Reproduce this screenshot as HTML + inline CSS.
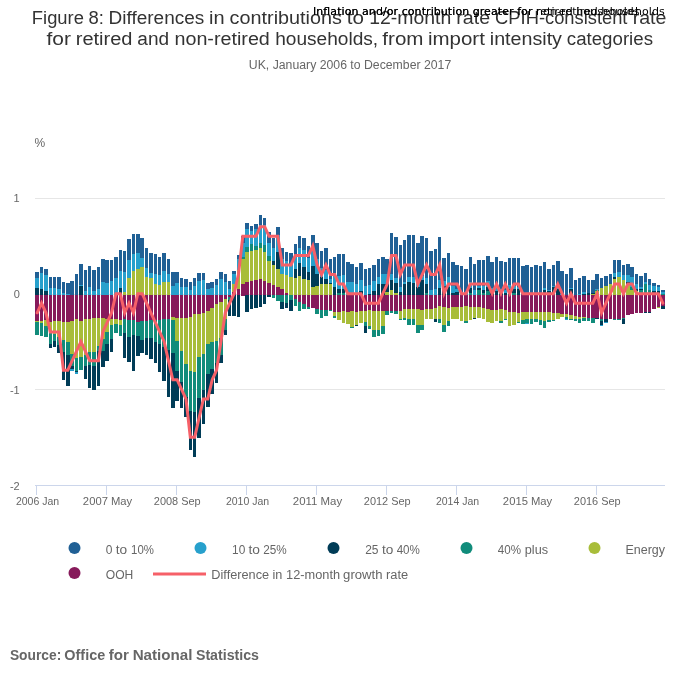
<!DOCTYPE html>
<html lang="en"><head><meta charset="utf-8">
<title>Figure 8: Differences in contributions to 12-month rate CPIH-consistent rate for retired and non-retired households, from import intensity categories</title>
<style>
html,body{margin:0;padding:0;background:#fff}
body{width:700px;height:682px;overflow:hidden;font-family:"Liberation Sans", Arial, sans-serif}
svg{display:block;position:absolute;left:0;top:0}
text{font-family:"Liberation Sans", Arial, sans-serif}
</style></head><body>
<svg width="700" height="682" viewBox="0 0 700 682" role="img" aria-label="Stacked column chart">
<rect width="700" height="682" fill="#ffffff"/>
<g stroke="#e6e6e6" stroke-width="1" shape-rendering="crispEdges">
<path d="M35 198.5H665"/>
<path d="M35 294.5H665"/>
<path d="M35 389.5H665"/>
</g>
<g stroke="#ccd6eb" stroke-width="1" shape-rendering="crispEdges" fill="none">
<path d="M35 485.5H665"/>
<path d="M36.5 485.0V495.0"/>
<path d="M106.5 485.0V495.0"/>
<path d="M176.5 485.0V495.0"/>
<path d="M246.5 485.0V495.0"/>
<path d="M316.5 485.0V495.0"/>
<path d="M386.5 485.0V495.0"/>
<path d="M456.5 485.0V495.0"/>
<path d="M526.5 485.0V495.0"/>
<path d="M596.5 485.0V495.0"/>
</g>
<g shape-rendering="crispEdges">
<path fill="#206095" d="M35 272h4v6h-4zM40 267h3v6h-3zM44 269h4v6h-4zM49 277h3v11h-3zM53 277h3v11h-3zM57 277h4v12h-4zM62 282h3v11h-3zM66 283h4v11h-4zM70 281h4v14h-4zM75 274h3v21h-3zM79 264h4v21h-4zM84 270h3v21h-3zM88 266h3v21h-3zM92 270h4v21h-4zM97 267h3v22h-3zM101 259h4v23h-4zM105 260h4v23h-4zM110 260h3v21h-3zM114 257h4v21h-4zM119 250h3v21h-3zM123 251h3v21h-3zM127 239h4v21h-4zM132 234h3v20h-3zM136 234h4v19h-4zM140 238h4v20h-4zM145 248h3v20h-3zM149 253h4v20h-4zM154 254h3v20h-3zM158 257h3v18h-3zM162 253h4v18h-4zM167 259h3v15h-3zM171 272h4v14h-4zM175 272h4v11h-4zM180 278h3v9h-3zM184 279h4v8h-4zM189 282h3v8h-3zM193 278h3v8h-3zM197 273h4v8h-4zM202 273h3v7h-3zM206 283h4v6h-4zM210 282h4v6h-4zM215 279h3v6h-3zM219 272h4v7h-4zM224 274h3v8h-3zM228 281h3v8h-3zM232 271h4v3h-4zM237 255h3v4h-3zM241 236h4v7h-4zM245 223h4v6h-4zM250 226h3v5h-3zM254 224h4v5h-4zM259 215h3v10h-3zM263 218h3v7h-3zM267 232h4v11h-4zM272 238h3v10h-3zM276 227h4v8h-4zM280 248h4v11h-4zM285 252h3v9h-3zM289 253h4v11h-4zM294 244h3v11h-3zM298 236h3v12h-3zM302 238h4v12h-4zM307 246h3v12h-3zM311 235h4v15h-4zM315 243h4v16h-4zM320 251h3v17h-3zM324 248h4v22h-4zM329 259h3v20h-3zM333 257h3v16h-3zM337 254h4v22h-4zM342 254h3v21h-3zM346 262h4v20h-4zM350 264h4v18h-4zM355 267h3v17h-3zM359 263h4v17h-4zM364 269h3v17h-3zM368 268h3v17h-3zM372 265h4v16h-4zM377 259h3v18h-3zM381 257h4v17h-4zM385 259h4v15h-4zM390 233h3v41h-3zM394 237h4v41h-4zM399 245h3v42h-3zM403 240h3v42h-3zM407 235h4v42h-4zM412 235h3v42h-3zM416 243h4v40h-4zM420 236h4v40h-4zM425 238h3v40h-3zM429 251h4v39h-4zM434 249h3v40h-3zM438 237h3v43h-3zM442 258h4v23h-4zM447 253h3v24h-3zM451 262h4v24h-4zM455 265h4v24h-4zM460 266h3v26h-3zM464 269h4v23h-4zM469 257h3v25h-3zM473 264h3v26h-3zM477 260h4v26h-4zM482 260h3v26h-3zM486 256h4v25h-4zM490 262h4v26h-4zM495 257h3v31h-3zM499 261h4v28h-4zM504 262h3v28h-3zM508 258h3v27h-3zM512 258h4v28h-4zM517 258h3v29h-3zM521 266h4v29h-4zM525 265h4v30h-4zM530 267h3v28h-3zM534 265h4v30h-4zM539 266h3v29h-3zM543 262h3v26h-3zM547 269h4v21h-4zM552 265h3v21h-3zM556 261h4v25h-4zM560 271h4v23h-4zM565 274h3v21h-3zM569 268h4v20h-4zM574 280h3v15h-3zM578 278h3v16h-3zM582 276h4v16h-4zM587 280h3v13h-3zM591 280h4v13h-4zM595 274h4v15h-4zM600 278h3v10h-3zM604 276h4v10h-4zM609 274h3v10h-3zM613 260h3v13h-3zM617 260h4v12h-4zM622 265h3v10h-3zM626 264h4v11h-4zM630 267h4v10h-4zM635 274h3v10h-3zM639 276h4v11h-4zM644 273h3v9h-3zM648 279h3v6h-3zM652 283h4v3h-4zM657 285h3v2h-3zM661 290h4v2h-4z"/>
<path fill="#27a0cc" d="M35 278h4v10h-4zM40 273h3v16h-3zM44 275h4v16h-4zM49 288h3v7h-3zM53 288h3v7h-3zM57 289h4v6h-4zM62 293h3v2h-3zM66 294h4v1h-4zM70 369h4v2h-4zM75 372h3v2h-3zM79 285h4v1h-4zM84 291h3v4h-3zM88 287h3v8h-3zM92 291h4v4h-4zM97 289h3v6h-3zM101 282h4v13h-4zM105 283h4v12h-4zM110 281h3v14h-3zM114 278h4v17h-4zM119 271h3v17h-3zM123 272h3v20h-3zM127 260h4v18h-4zM132 254h3v17h-3zM136 253h4v16h-4zM140 258h4v9h-4zM145 268h3v9h-3zM149 273h4v5h-4zM154 274h3v10h-3zM158 275h3v10h-3zM162 271h4v11h-4zM167 274h3v8h-3zM171 286h4v9h-4zM175 283h4v12h-4zM180 287h3v8h-3zM184 287h4v8h-4zM189 290h3v5h-3zM193 286h3v9h-3zM197 281h4v14h-4zM202 280h3v15h-3zM206 289h4v6h-4zM210 288h4v7h-4zM215 285h3v10h-3zM219 279h4v16h-4zM224 282h3v13h-3zM228 289h3v6h-3zM232 274h4v10h-4zM237 259h3v11h-3zM241 243h4v14h-4zM245 229h4v18h-4zM250 231h3v13h-3zM254 229h4v17h-4zM259 225h3v18h-3zM263 225h3v20h-3zM267 243h4v13h-4zM272 248h3v13h-3zM276 235h4v17h-4zM280 259h4v15h-4zM285 261h3v14h-3zM289 264h4v13h-4zM294 255h3v14h-3zM298 248h3v15h-3zM302 250h4v17h-4zM307 258h3v14h-3zM311 250h4v16h-4zM315 259h4v15h-4zM320 268h3v9h-3zM324 270h4v9h-4zM329 279h3v4h-3zM333 273h3v14h-3zM337 276h4v13h-4zM342 275h3v14h-3zM346 282h4v13h-4zM350 282h4v13h-4zM355 284h3v11h-3zM359 280h4v11h-4zM364 286h3v9h-3zM368 285h3v9h-3zM372 281h4v10h-4zM377 277h3v7h-3zM381 274h4v10h-4zM385 274h4v10h-4zM390 274h3v6h-3zM394 278h4v5h-4zM399 287h3v5h-3zM403 282h3v2h-3zM407 277h4v5h-4zM412 277h3v6h-3zM416 283h4v4h-4zM420 276h4v4h-4zM425 278h3v6h-3zM429 290h4v5h-4zM434 289h3v6h-3zM438 280h3v8h-3zM442 281h4v5h-4zM447 277h3v10h-3zM451 286h4v7h-4zM455 289h4v3h-4zM460 292h3v3h-3zM464 292h4v3h-4zM469 282h3v6h-3zM473 290h3v5h-3zM477 286h4v2h-4zM482 286h3v4h-3zM486 281h4v6h-4zM490 288h4v3h-4zM495 288h3v3h-3zM499 289h4v3h-4zM504 290h3v3h-3zM508 285h3v4h-3zM512 286h4v3h-4zM517 287h3v2h-3zM525 323h4v1h-4zM543 288h3v2h-3zM547 290h4v1h-4zM552 286h3v1h-3zM556 286h4v3h-4zM560 294h4v1h-4zM565 319h3v1h-3zM569 288h4v1h-4zM578 294h3v1h-3zM582 292h4v2h-4zM595 289h4v1h-4zM600 325h3v1h-3zM604 322h4v1h-4zM613 273h3v4h-3zM617 272h4v5h-4zM622 275h3v5h-3zM626 275h4v7h-4zM630 277h4v10h-4zM635 284h3v5h-3zM639 287h4v2h-4zM644 282h3v2h-3zM648 285h3v5h-3zM652 286h4v5h-4zM657 287h3v4h-3zM661 292h4v2h-4z"/>
<path fill="#003c57" d="M35 288h4v7h-4zM40 289h3v6h-3zM44 291h4v4h-4zM49 344h3v4h-3zM53 341h3v6h-3zM57 345h4v8h-4zM62 352h3v28h-3zM66 355h4v31h-4zM70 366h4v3h-4zM75 371h3v1h-3zM79 286h4v9h-4zM84 366h3v13h-3zM88 365h3v23h-3zM92 366h4v24h-4zM97 351h3v35h-3zM101 351h4v16h-4zM105 344h4v17h-4zM110 339h3v13h-3zM119 288h3v7h-3zM123 333h3v25h-3zM127 337h4v25h-4zM132 335h3v36h-3zM136 336h4v20h-4zM140 340h4v13h-4zM145 338h3v17h-3zM149 338h4v21h-4zM154 342h3v21h-3zM158 344h3v28h-3zM162 347h4v34h-4zM167 350h3v47h-3zM171 353h4v55h-4zM175 371h4v30h-4zM180 382h3v26h-3zM184 397h4v20h-4zM189 411h3v39h-3zM193 412h3v45h-3zM197 398h4v40h-4zM202 390h3v34h-3zM206 374h4v33h-4zM210 369h4v25h-4zM215 363h3v20h-3zM219 355h4v8h-4zM224 330h3v5h-3zM228 300h3v16h-3zM232 295h4v21h-4zM237 295h3v22h-3zM245 295h4v17h-4zM250 295h3v14h-3zM254 295h4v13h-4zM259 295h3v12h-3zM263 295h3v9h-3zM267 295h4v2h-4zM272 261h3v4h-3zM276 252h4v17h-4zM280 302h4v7h-4zM285 303h3v5h-3zM289 300h4v11h-4zM294 269h3v9h-3zM298 263h3v13h-3zM302 267h4v12h-4zM307 272h3v8h-3zM311 266h4v21h-4zM315 274h4v12h-4zM320 277h3v7h-3zM324 279h4v5h-4zM329 283h3v1h-3zM333 287h3v8h-3zM337 289h4v4h-4zM342 289h3v4h-3zM355 325h3v1h-3zM359 291h4v4h-4zM364 326h3v7h-3zM368 294h3v1h-3zM372 291h4v4h-4zM377 284h3v11h-3zM381 284h4v11h-4zM385 284h4v8h-4zM390 280h3v10h-3zM394 283h4v10h-4zM399 292h3v3h-3zM403 284h3v11h-3zM407 282h4v13h-4zM412 283h3v12h-3zM416 287h4v8h-4zM420 280h4v15h-4zM425 284h3v9h-3zM434 319h3v3h-3zM438 288h3v7h-3zM442 286h4v9h-4zM447 287h3v8h-3zM451 293h4v2h-4zM455 292h4v3h-4zM469 288h3v5h-3zM473 318h3v1h-3zM477 288h4v2h-4zM482 290h3v3h-3zM486 287h4v4h-4zM490 291h4v4h-4zM495 291h3v4h-3zM499 292h4v3h-4zM504 293h3v2h-3zM508 289h3v6h-3zM512 289h4v4h-4zM517 289h3v6h-3zM543 290h3v5h-3zM547 291h4v4h-4zM552 287h3v8h-3zM556 289h4v6h-4zM569 289h4v6h-4zM582 294h4v1h-4zM587 293h3v2h-3zM591 293h4v1h-4zM595 318h4v1h-4zM600 321h3v4h-3zM604 319h4v3h-4zM613 277h3v2h-3zM622 319h3v5h-3zM626 282h4v3h-4zM635 289h3v2h-3zM639 289h4v1h-4zM644 312h3v1h-3zM648 312h3v1h-3zM652 291h4v4h-4zM657 291h3v4h-3zM661 306h4v3h-4z"/>
<path fill="#118c7b" d="M35 322h4v13h-4zM40 323h3v13h-3zM44 326h4v11h-4zM49 333h3v11h-3zM53 334h3v7h-3zM57 337h4v8h-4zM62 340h3v12h-3zM66 342h4v13h-4zM70 354h4v12h-4zM75 358h3v13h-3zM79 357h4v13h-4zM84 355h3v11h-3zM88 352h3v13h-3zM92 352h4v14h-4zM97 346h3v5h-3zM101 339h4v12h-4zM105 332h4v12h-4zM110 325h3v14h-3zM114 324h4v9h-4zM119 325h3v11h-3zM123 319h3v14h-3zM127 320h4v17h-4zM132 320h3v15h-3zM136 322h4v14h-4zM140 321h4v19h-4zM145 321h3v17h-3zM149 320h4v18h-4zM154 320h3v22h-3zM158 320h3v24h-3zM162 319h4v28h-4zM167 319h3v31h-3zM171 320h4v33h-4zM175 341h4v30h-4zM180 351h3v31h-3zM184 364h4v33h-4zM189 371h3v40h-3zM193 372h3v40h-3zM197 357h4v41h-4zM202 354h3v36h-3zM206 344h4v30h-4zM210 342h4v27h-4zM215 341h3v22h-3zM219 338h4v17h-4zM224 319h3v11h-3zM228 297h3v3h-3zM241 257h4v2h-4zM245 247h4v5h-4zM250 244h3v7h-3zM254 246h4v4h-4zM259 243h3v5h-3zM263 245h3v7h-3zM267 256h4v5h-4zM272 295h3v3h-3zM276 295h4v6h-4zM280 295h4v7h-4zM285 295h3v8h-3zM289 295h4v5h-4zM294 299h3v7h-3zM298 302h3v9h-3zM302 304h4v5h-4zM307 307h3v2h-3zM315 309h4v5h-4zM320 310h3v8h-3zM324 310h4v6h-4zM329 310h3v1h-3zM333 316h3v2h-3zM337 293h4v2h-4zM342 293h3v2h-3zM350 327h4v1h-4zM364 322h3v4h-3zM368 326h3v3h-3zM372 330h4v7h-4zM377 330h3v6h-3zM381 326h4v8h-4zM385 311h4v4h-4zM390 311h3v2h-3zM394 311h4v3h-4zM399 319h3v1h-3zM403 318h3v2h-3zM407 319h4v6h-4zM412 319h3v6h-3zM416 325h4v8h-4zM420 325h4v5h-4zM425 293h3v2h-3zM438 319h3v4h-3zM442 325h4v7h-4zM447 321h3v5h-3zM464 321h4v2h-4zM469 293h3v2h-3zM477 290h4v5h-4zM482 293h3v2h-3zM486 291h4v4h-4zM499 321h4v2h-4zM504 319h3v1h-3zM512 293h4v2h-4zM517 322h3v1h-3zM521 320h4v4h-4zM525 319h4v4h-4zM530 319h3v5h-3zM534 319h4v3h-4zM539 320h3v5h-3zM543 321h3v7h-3zM547 320h4v2h-4zM552 320h3v1h-3zM565 317h3v2h-3zM569 319h4v1h-4zM574 319h3v2h-3zM578 319h3v4h-3zM582 318h4v3h-4zM587 318h3v3h-3zM591 318h4v5h-4zM595 290h4v1h-4zM600 319h3v2h-3zM613 319h3v1h-3zM617 319h4v1h-4zM622 318h3v1h-3zM630 287h4v3h-4zM639 290h4v5h-4zM644 284h3v11h-3zM648 290h3v5h-3zM661 294h4v1h-4z"/>
<path fill="#a8bd3a" d="M35 321h4v1h-4zM40 321h3v2h-3zM44 320h4v6h-4zM49 322h3v11h-3zM53 321h3v13h-3zM57 321h4v16h-4zM62 322h3v18h-3zM66 322h4v20h-4zM70 321h4v33h-4zM75 319h3v39h-3zM79 321h4v36h-4zM84 319h3v36h-3zM88 319h3v33h-3zM92 318h4v34h-4zM97 318h3v28h-3zM101 318h4v21h-4zM105 319h4v13h-4zM110 319h3v6h-3zM114 319h4v5h-4zM119 320h3v5h-3zM123 292h3v3h-3zM127 278h4v17h-4zM132 271h3v24h-3zM136 269h4v26h-4zM140 267h4v28h-4zM145 277h3v18h-3zM149 278h4v17h-4zM154 284h3v11h-3zM158 285h3v10h-3zM162 282h4v13h-4zM167 282h3v13h-3zM171 317h4v3h-4zM175 318h4v23h-4zM180 318h3v33h-3zM184 318h4v46h-4zM189 317h3v54h-3zM193 314h3v58h-3zM197 314h4v43h-4zM202 313h3v41h-3zM206 311h4v33h-4zM210 308h4v34h-4zM215 304h3v37h-3zM219 302h4v36h-4zM224 299h3v20h-3zM232 284h4v8h-4zM237 270h3v19h-3zM241 259h4v25h-4zM245 252h4v30h-4zM250 251h3v30h-3zM254 250h4v30h-4zM259 248h3v31h-3zM263 252h3v29h-3zM267 261h4v22h-4zM272 265h3v20h-3zM276 269h4v18h-4zM280 274h4v15h-4zM285 275h3v18h-3zM289 277h4v18h-4zM294 278h3v17h-3zM298 276h3v19h-3zM302 279h4v16h-4zM307 280h3v15h-3zM311 287h4v8h-4zM315 286h4v9h-4zM320 284h3v11h-3zM324 284h4v11h-4zM329 284h3v11h-3zM333 312h3v4h-3zM337 312h4v8h-4zM342 311h3v12h-3zM346 312h4v12h-4zM350 311h4v16h-4zM355 312h3v13h-3zM359 311h4v12h-4zM364 311h3v11h-3zM368 310h3v16h-3zM372 311h4v19h-4zM377 311h3v19h-3zM381 311h4v15h-4zM385 292h4v3h-4zM390 290h3v5h-3zM394 293h4v2h-4zM399 311h3v8h-3zM403 309h3v9h-3zM407 309h4v10h-4zM412 309h3v10h-3zM416 309h4v16h-4zM420 310h4v15h-4zM425 309h3v10h-3zM429 309h4v10h-4zM434 308h3v11h-3zM438 306h3v13h-3zM442 307h4v18h-4zM447 308h3v13h-3zM451 307h4v12h-4zM455 307h4v12h-4zM460 307h3v14h-3zM464 306h4v15h-4zM469 307h3v13h-3zM473 307h3v11h-3zM477 307h4v11h-4zM482 308h3v11h-3zM486 309h4v13h-4zM490 310h4v13h-4zM495 310h3v11h-3zM499 309h4v12h-4zM504 310h3v9h-3zM508 312h3v14h-3zM512 312h4v13h-4zM517 313h3v9h-3zM521 312h4v8h-4zM525 312h4v7h-4zM530 312h3v7h-3zM534 312h4v7h-4zM539 312h3v8h-3zM543 312h3v9h-3zM547 312h4v8h-4zM552 313h3v7h-3zM556 313h4v6h-4zM560 314h4v3h-4zM565 314h3v3h-3zM569 315h4v4h-4zM574 316h3v3h-3zM578 317h3v2h-3zM582 317h4v1h-4zM591 294h4v1h-4zM595 291h4v4h-4zM600 288h3v7h-3zM604 286h4v9h-4zM609 284h3v11h-3zM613 279h3v16h-3zM617 277h4v18h-4zM622 280h3v15h-3zM626 285h4v10h-4zM630 290h4v5h-4zM635 291h3v4h-3zM657 307h3v1h-3z"/>
<path fill="#871a5b" d="M35 295h4v26h-4zM40 295h3v26h-3zM44 295h4v25h-4zM49 295h3v27h-3zM53 295h3v26h-3zM57 295h4v26h-4zM62 295h3v27h-3zM66 295h4v27h-4zM70 295h4v26h-4zM75 295h3v24h-3zM79 295h4v26h-4zM84 295h3v24h-3zM88 295h3v24h-3zM92 295h4v23h-4zM97 295h3v23h-3zM101 295h4v23h-4zM105 295h4v24h-4zM110 295h3v24h-3zM114 295h4v24h-4zM119 295h3v25h-3zM123 295h3v24h-3zM127 295h4v25h-4zM132 295h3v25h-3zM136 295h4v27h-4zM140 295h4v26h-4zM145 295h3v26h-3zM149 295h4v25h-4zM154 295h3v25h-3zM158 295h3v25h-3zM162 295h4v24h-4zM167 295h3v24h-3zM171 295h4v22h-4zM175 295h4v23h-4zM180 295h3v23h-3zM184 295h4v23h-4zM189 295h3v22h-3zM193 295h3v19h-3zM197 295h4v19h-4zM202 295h3v18h-3zM206 295h4v16h-4zM210 295h4v13h-4zM215 295h3v9h-3zM219 295h4v7h-4zM224 295h3v4h-3zM228 295h3v2h-3zM232 292h4v3h-4zM237 289h3v6h-3zM241 284h4v11h-4zM241 295h4v1h-4zM245 282h4v13h-4zM250 281h3v14h-3zM254 280h4v15h-4zM259 279h3v16h-3zM263 281h3v14h-3zM267 283h4v12h-4zM272 285h3v10h-3zM276 287h4v8h-4zM280 289h4v6h-4zM285 293h3v2h-3zM294 295h3v4h-3zM298 295h3v7h-3zM302 295h4v9h-4zM307 295h3v12h-3zM311 295h4v13h-4zM315 295h4v14h-4zM320 295h3v15h-3zM324 295h4v15h-4zM329 295h3v15h-3zM333 295h3v17h-3zM337 295h4v17h-4zM342 295h3v16h-3zM346 295h4v17h-4zM350 295h4v16h-4zM355 295h3v17h-3zM359 295h4v16h-4zM364 295h3v16h-3zM368 295h3v15h-3zM372 295h4v16h-4zM377 295h3v16h-3zM381 295h4v16h-4zM385 295h4v16h-4zM390 295h3v16h-3zM394 295h4v16h-4zM399 295h3v16h-3zM403 295h3v14h-3zM407 295h4v14h-4zM412 295h3v14h-3zM416 295h4v14h-4zM420 295h4v15h-4zM425 295h3v14h-3zM429 295h4v14h-4zM434 295h3v13h-3zM438 295h3v11h-3zM442 295h4v12h-4zM447 295h3v13h-3zM451 295h4v12h-4zM455 295h4v12h-4zM460 295h3v12h-3zM464 295h4v11h-4zM469 295h3v12h-3zM473 295h3v12h-3zM477 295h4v12h-4zM482 295h3v13h-3zM486 295h4v14h-4zM490 295h4v15h-4zM495 295h3v15h-3zM499 295h4v14h-4zM504 295h3v15h-3zM508 295h3v17h-3zM512 295h4v17h-4zM517 295h3v18h-3zM521 295h4v17h-4zM525 295h4v17h-4zM530 295h3v17h-3zM534 295h4v17h-4zM539 295h3v17h-3zM543 295h3v17h-3zM547 295h4v17h-4zM552 295h3v18h-3zM556 295h4v18h-4zM560 295h4v19h-4zM565 295h3v19h-3zM569 295h4v20h-4zM574 295h3v21h-3zM578 295h3v22h-3zM582 295h4v22h-4zM587 295h3v23h-3zM591 295h4v23h-4zM595 295h4v23h-4zM600 295h3v24h-3zM604 295h4v24h-4zM609 295h3v24h-3zM613 295h3v24h-3zM617 295h4v24h-4zM622 295h3v23h-3zM626 295h4v20h-4zM630 295h4v19h-4zM635 295h3v18h-3zM639 295h4v18h-4zM644 295h3v17h-3zM648 295h3v17h-3zM652 295h4v14h-4zM657 295h3v12h-3zM661 295h4v11h-4z"/>
</g>
<path fill="none" stroke="#f66068" stroke-width="3" stroke-linejoin="miter" stroke-miterlimit="10" stroke-linecap="round" d="M37.19 312.80 L41.56 303.23 L45.94 312.80 L50.31 331.93 L54.69 331.93 L59.06 331.93 L63.44 370.20 L67.81 370.20 L72.19 360.63 L76.56 351.07 L80.94 341.50 L85.31 351.07 L89.69 360.63 L94.06 360.63 L98.44 360.63 L102.81 331.93 L107.19 322.37 L111.56 312.80 L115.94 293.67 L120.31 293.67 L124.69 312.80 L129.06 303.23 L133.44 312.80 L137.81 293.67 L142.19 293.67 L146.56 303.23 L150.94 312.80 L155.31 322.37 L159.69 331.93 L164.06 341.50 L168.44 360.63 L172.81 379.77 L177.19 379.77 L181.56 389.33 L185.94 398.90 L190.31 437.17 L194.69 437.17 L199.06 418.03 L203.44 398.90 L207.81 398.90 L212.19 379.77 L216.56 370.20 L220.94 341.50 L225.31 312.80 L229.69 303.23 L234.06 293.67 L238.44 274.53 L242.81 236.27 L247.19 236.27 L251.56 236.27 L255.94 236.27 L260.31 226.70 L264.69 226.70 L269.06 236.27 L273.44 236.27 L277.81 236.27 L282.19 264.97 L286.56 264.97 L290.94 264.97 L295.31 255.40 L299.69 255.40 L304.06 255.40 L308.44 255.40 L312.81 245.83 L317.19 264.97 L321.56 274.53 L325.94 264.97 L330.31 274.53 L334.69 274.53 L339.06 284.10 L343.44 284.10 L347.81 293.67 L352.19 293.67 L356.56 293.67 L360.94 293.67 L365.31 303.23 L369.69 303.23 L374.06 303.23 L378.44 303.23 L382.81 293.67 L387.19 284.10 L391.56 255.40 L395.94 255.40 L400.31 274.53 L404.69 264.97 L409.06 264.97 L413.44 264.97 L417.81 284.10 L422.19 274.53 L426.56 264.97 L430.94 274.53 L435.31 274.53 L439.69 264.97 L444.06 293.67 L448.44 284.10 L452.81 284.10 L457.19 284.10 L461.56 293.67 L465.94 293.67 L470.31 284.10 L474.69 284.10 L479.06 284.10 L483.44 284.10 L487.81 284.10 L492.19 293.67 L496.56 284.10 L500.94 293.67 L505.31 284.10 L509.69 293.67 L514.06 284.10 L518.44 284.10 L522.81 293.67 L527.19 293.67 L531.56 293.67 L535.94 293.67 L540.31 293.67 L544.69 293.67 L549.06 293.67 L553.44 293.67 L557.81 284.10 L562.19 293.67 L566.56 303.23 L570.94 293.67 L575.31 303.23 L579.69 303.23 L584.06 303.23 L588.44 303.23 L592.81 303.23 L597.19 293.67 L601.56 312.80 L605.94 303.23 L610.31 293.67 L614.69 284.10 L619.06 284.10 L623.44 293.67 L627.81 284.10 L632.19 284.10 L636.56 293.67 L640.94 293.67 L645.31 293.67 L649.69 293.67 L654.06 293.67 L658.44 293.67 L662.81 303.23"/>
<text y="23.6" font-size="18" fill="#333333"><tspan x="31.85" textLength="52.01" lengthAdjust="spacingAndGlyphs">Figure</tspan> <tspan x="88.61" textLength="15.36" lengthAdjust="spacingAndGlyphs">8:</tspan> <tspan x="108.57" textLength="95.69" lengthAdjust="spacingAndGlyphs">Differences</tspan> <tspan x="208.96" textLength="15.56" lengthAdjust="spacingAndGlyphs">in</tspan> <tspan x="229.61" textLength="112.36" lengthAdjust="spacingAndGlyphs">contributions</tspan> <tspan x="346.78" textLength="17.22" lengthAdjust="spacingAndGlyphs">to</tspan> <tspan x="369.22" textLength="82.03" lengthAdjust="spacingAndGlyphs">12-month</tspan> <tspan x="456.33" textLength="33.82" lengthAdjust="spacingAndGlyphs">rate</tspan> <tspan x="495.13" textLength="132.31" lengthAdjust="spacingAndGlyphs">CPIH-consistent</tspan> <tspan x="632.66" textLength="33.82" lengthAdjust="spacingAndGlyphs">rate</tspan></text>
<text y="44.6" font-size="18" fill="#333333"><tspan x="46.53" textLength="24.44" lengthAdjust="spacingAndGlyphs">for</tspan> <tspan x="75.72" textLength="56.75" lengthAdjust="spacingAndGlyphs">retired</tspan> <tspan x="137.39" textLength="31.76" lengthAdjust="spacingAndGlyphs">and</tspan> <tspan x="174.45" textLength="95.4" lengthAdjust="spacingAndGlyphs">non-retired</tspan> <tspan x="275.19" textLength="102.91" lengthAdjust="spacingAndGlyphs">households,</tspan> <tspan x="382.34" textLength="41.13" lengthAdjust="spacingAndGlyphs">from</tspan> <tspan x="427.98" textLength="56.91" lengthAdjust="spacingAndGlyphs">import</tspan> <tspan x="489.78" textLength="72.2" lengthAdjust="spacingAndGlyphs">intensity</tspan> <tspan x="566.81" textLength="86.2" lengthAdjust="spacingAndGlyphs">categories</tspan></text>
<text x="248.83" y="68.9" font-size="12" fill="#666666" textLength="202.4" lengthAdjust="spacingAndGlyphs">UK, January 2006 to December 2017</text>
<text y="14.7" font-size="11" fill="#000000" style='font-family:"DejaVu Sans", "Liberation Sans", sans-serif'><tspan x="312.99" textLength="45.52" lengthAdjust="spacing">Inflation</tspan> <tspan x="362.04" textLength="36.1" lengthAdjust="spacing">and/or</tspan> <tspan x="401.68" textLength="67.5" lengthAdjust="spacing">contribution</tspan> <tspan x="472.71" textLength="40.88" lengthAdjust="spacing">greater</tspan> <tspan x="517.13" textLength="15.31" lengthAdjust="spacing">for</tspan> <tspan x="535.98" textLength="61.85" lengthAdjust="spacing">non-retired</tspan> <tspan x="601.37" textLength="63.42" lengthAdjust="spacing">households</tspan></text>
<text y="14.7" font-size="11" fill="#000000" style='font-family:"DejaVu Sans", "Liberation Sans", sans-serif'><tspan x="312.99" textLength="45.52" lengthAdjust="spacing">Inflation</tspan> <tspan x="362.04" textLength="36.1" lengthAdjust="spacing">and/or</tspan> <tspan x="401.68" textLength="67.5" lengthAdjust="spacing">contribution</tspan> <tspan x="472.71" textLength="40.88" lengthAdjust="spacing">greater</tspan> <tspan x="517.13" textLength="15.31" lengthAdjust="spacing">for</tspan> <tspan x="535.82" textLength="36.87" lengthAdjust="spacing">retired</tspan> <tspan x="576.22" textLength="63.38" lengthAdjust="spacing">households</tspan></text>
<text y="147" font-size="12" fill="#666666"><tspan x="34.48" textLength="10.67" lengthAdjust="spacingAndGlyphs">%</tspan></text>
<text x="19.7" y="202.1" font-size="11" fill="#666666" text-anchor="end">1</text>
<text x="19.8" y="298.1" font-size="11" fill="#666666" text-anchor="end">0</text>
<text x="19.7" y="394.1" font-size="11" fill="#666666" text-anchor="end">-1</text>
<text x="19.7" y="490.1" font-size="11" fill="#666666" text-anchor="end">-2</text>
<text x="15.92" y="504.7" font-size="11" fill="#666666" textLength="43.21" lengthAdjust="spacingAndGlyphs">2006 Jan</text>
<text x="82.89" y="504.7" font-size="11" fill="#666666" textLength="49.37" lengthAdjust="spacingAndGlyphs">2007 May</text>
<text x="153.8" y="504.7" font-size="11" fill="#666666" textLength="46.85" lengthAdjust="spacingAndGlyphs">2008 Sep</text>
<text x="225.92" y="504.7" font-size="11" fill="#666666" textLength="43.21" lengthAdjust="spacingAndGlyphs">2010 Jan</text>
<text x="292.88" y="504.7" font-size="11" fill="#666666" textLength="49.31" lengthAdjust="spacingAndGlyphs">2011 May</text>
<text x="363.8" y="504.7" font-size="11" fill="#666666" textLength="46.85" lengthAdjust="spacingAndGlyphs">2012 Sep</text>
<text x="435.92" y="504.7" font-size="11" fill="#666666" textLength="43.21" lengthAdjust="spacingAndGlyphs">2014 Jan</text>
<text x="502.89" y="504.7" font-size="11" fill="#666666" textLength="49.37" lengthAdjust="spacingAndGlyphs">2015 May</text>
<text x="573.8" y="504.7" font-size="11" fill="#666666" textLength="46.85" lengthAdjust="spacingAndGlyphs">2016 Sep</text>
<text y="553.5" font-size="12" fill="#666666"><tspan x="105.82" textLength="6.68" lengthAdjust="spacingAndGlyphs">0</tspan> <tspan x="115.79" textLength="11.42" lengthAdjust="spacingAndGlyphs">to</tspan> <tspan x="131.06" textLength="22.83" lengthAdjust="spacingAndGlyphs">10%</tspan></text>
<text y="553.5" font-size="12" fill="#666666"><tspan x="232.06" textLength="13.21" lengthAdjust="spacingAndGlyphs">10</tspan> <tspan x="248.52" textLength="11.48" lengthAdjust="spacingAndGlyphs">to</tspan> <tspan x="263.33" textLength="23.48" lengthAdjust="spacingAndGlyphs">25%</tspan></text>
<text y="553.5" font-size="12" fill="#666666"><tspan x="365.2" textLength="13.35" lengthAdjust="spacingAndGlyphs">25</tspan> <tspan x="382.01" textLength="11.36" lengthAdjust="spacingAndGlyphs">to</tspan> <tspan x="396.66" textLength="23.25" lengthAdjust="spacingAndGlyphs">40%</tspan></text>
<text y="553.5" font-size="12" fill="#666666"><tspan x="497.86" textLength="23.21" lengthAdjust="spacingAndGlyphs">40%</tspan> <tspan x="524.76" textLength="23.29" lengthAdjust="spacingAndGlyphs">plus</tspan></text>
<text y="553.5" font-size="12" fill="#666666"><tspan x="625.46" textLength="39.56" lengthAdjust="spacingAndGlyphs">Energy</tspan></text>
<text y="578.5" font-size="12" fill="#666666"><tspan x="105.8" textLength="27.55" lengthAdjust="spacingAndGlyphs">OOH</tspan></text>
<text y="578.5" font-size="12" fill="#666666"><tspan x="211.34" textLength="57.78" lengthAdjust="spacingAndGlyphs">Difference</tspan> <tspan x="272.45" textLength="9.87" lengthAdjust="spacingAndGlyphs">in</tspan> <tspan x="286.13" textLength="54.02" lengthAdjust="spacingAndGlyphs">12-month</tspan> <tspan x="343.11" textLength="39.45" lengthAdjust="spacingAndGlyphs">growth</tspan> <tspan x="386.08" textLength="22.16" lengthAdjust="spacingAndGlyphs">rate</tspan></text>
<text y="660" font-size="14" fill="#666666" font-weight="bold"><tspan x="9.91" textLength="51.34" lengthAdjust="spacingAndGlyphs">Source:</tspan> <tspan x="64.34" textLength="40.84" lengthAdjust="spacingAndGlyphs">Office</tspan> <tspan x="108.76" textLength="20.15" lengthAdjust="spacingAndGlyphs">for</tspan> <tspan x="132.65" textLength="59.76" lengthAdjust="spacingAndGlyphs">National</tspan> <tspan x="195.94" textLength="63.06" lengthAdjust="spacingAndGlyphs">Statistics</tspan></text>
<circle cx="74.5" cy="548" r="6" fill="#206095"/>
<circle cx="200.5" cy="548" r="6" fill="#27a0cc"/>
<circle cx="333.5" cy="548" r="6" fill="#003c57"/>
<circle cx="466.5" cy="548" r="6" fill="#118c7b"/>
<circle cx="594.5" cy="548" r="6" fill="#a8bd3a"/>
<circle cx="74.5" cy="573" r="6" fill="#871a5b"/>
<path d="M153 574H206" stroke="#f66068" stroke-width="3" fill="none"/>
</svg>
</body></html>
